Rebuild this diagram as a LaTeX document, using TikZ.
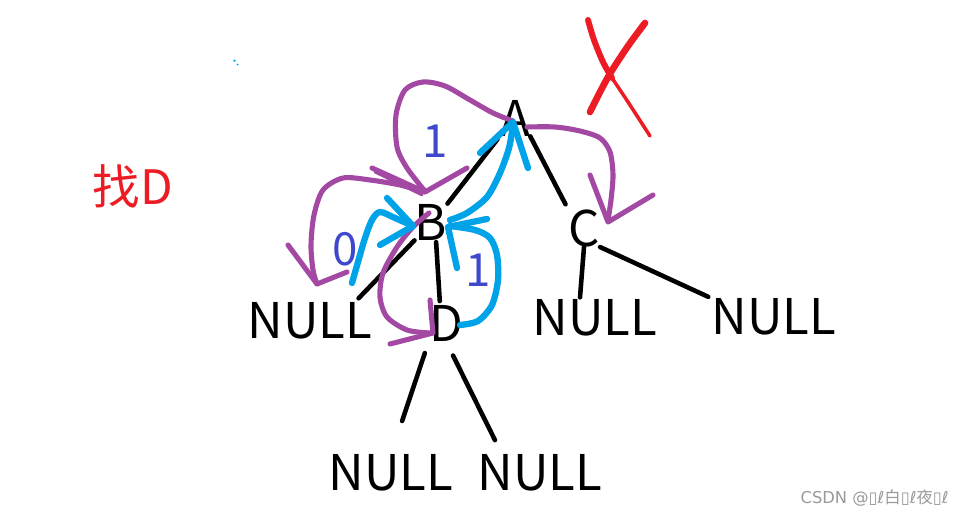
\documentclass[tikz,border=0pt]{standalone}
\usepackage{fontspec}
\usepackage{xcolor}
\usepackage{tikz}
\usetikzlibrary{arrows.meta, positioning, calc}
\newfontfamily\cjk{Noto Sans CJK SC}
\newfontfamily\dejavu{DejaVu Sans}
\definecolor{penpurple}{HTML}{A349A4}
\definecolor{penblue}{HTML}{00A2E8}
\definecolor{penred}{HTML}{ED1C24}
\definecolor{penindigo}{HTML}{3F48CC}
\tikzset{
  key/.style={inner sep=0pt, font=\cjk\fontsize{28}{30}\selectfont},
  nil/.style={inner sep=0pt, font=\cjk\fontsize{28}{30}\selectfont},
  idx/.style={inner sep=0pt, text=penindigo, font=\cjk\fontsize{26}{28}\selectfont},
  edge/.style={line width=2.6pt, line cap=round},
  goline/.style={penpurple, line width=2.9pt, line cap=round, line join=round},
  backline/.style={penblue, line width=3.6pt, line cap=round, line join=round}
}

\begin{document}
\begin{tikzpicture}[x=0.02cm, y=-0.02cm]
        \useasboundingbox (0,0) rectangle (964,519);

        % Goal
        \node[inner sep=0pt, text=penred, font=\cjk\fontsize{27}{29}\selectfont] (goal) at (133,186) {找D};

        % Tree nodes
        \node[key] (a) at (515,118) {A};
        \node[key] (b) at (431,222) {B};
        \node[key] (c) at (584,228) {C};
        \node[key] (d) at (446,323) {D};
        \node[nil] (bl) at (310,321) {NULL};
        \node[nil] (cl) at (595,318) {NULL};
        \node[nil] (cr) at (774,317) {NULL};
        \node[nil] (dl) at (391,473) {NULL};
        \node[nil] (dr) at (540,473) {NULL};

        % Edges
        \draw[edge, shorten <=2pt] (a.south west) -- (b.north east);
        \draw[edge, shorten >=3pt] (a.south east) -- (c.north west);
        \draw[edge] (b.south west) -- ($(bl.north east)+(-14,-4)$);
        \draw[edge, shorten <=1pt, shorten >=2pt] ($(b.south)+(5,0)$) -- ($(d.north)+(-6,0)$);
        \draw[edge] (c.south) -- ($(cl.north)+(-15,-2)$);
        \draw[edge, shorten >=2pt] (c.south east) -- (cr.north west);
        \draw[edge, shorten <=7pt, shorten >=20pt] (d.south west) -- (dl.north);
        \draw[edge, shorten <=9pt, shorten >=9pt] (d.south) -- ($(dr.north)+(-38,0)$);

        % Path labels
        \node[idx] (one) at (435,141) {1};
        \node[idx] (zero) at (345,249) {0};
        \node[idx] (onedown) at (478,270) {1};

        % Going down (purple)
        \draw[goline] plot[smooth] coordinates {(513,121) (493,113) (470,100) (445,86) (423,82) (405,90) (396,115) (397,147) (407,168) (424,190)};
        \draw[goline] (372,168) -- (425,192) -- (467,168);
        \draw[goline, line width=1.6pt] (375,172) -- (422,195);
        \draw[goline] plot[smooth] coordinates {(424,192) (400,185) (370,180) (343,178) (323,190) (314,215) (311,245) (313,270) (317,284)};
        \draw[goline] (288,245) -- (317,284) -- (347,272);
        \draw[goline] plot[smooth] coordinates {(429,213) (413,227) (397,247) (383,273) (380,297) (387,317) (407,330) (430,333)};
        \draw[goline] (390,344) -- (433,333) -- (430,300);
        \draw[goline] plot[smooth] coordinates {(527,127) (555,127) (580,131) (600,138) (610,152) (613,175) (611,200) (608,220)};
        \draw[goline] (590,175) -- (608,222) -- (653,195);

        % Going back (blue)
        \draw[backline] plot[smooth] coordinates {(352,283) (358,262) (365,238) (372,220) (380,212) (395,218) (413,226)};
        \draw[backline] (387,198) -- (413,226) -- (380,245);
        \draw[backline] plot[smooth] coordinates {(460,325) (478,321) (492,305) (498,280) (497,255) (490,238) (475,230) (450,226)};
        \draw[backline] (487,219) -- (448,227) -- (457,268);
        \draw[backline] plot[smooth] coordinates {(450,220) (467,213) (487,197) (500,173) (509,148) (513,125)};
        \draw[backline] (480,153) -- (513,122) -- (528,168);
        \draw[penblue, line width=1pt, dotted] (234,60) -- (238,65);

        % Cross
        \draw[penred, line width=3.4pt, line cap=round] plot[smooth] coordinates {(588,20) (594,40) (603,62) (612,78)};
        \draw[penred, line width=2pt, line cap=round] plot[smooth] coordinates {(612,78) (628,102) (650,136)};
        \draw[penred, line width=3.8pt, line cap=round] plot[smooth] coordinates {(645,23) (628,46) (611,72) (600,92) (590,112)};

        % Watermark
        \node[anchor=east, inner sep=0pt, text=black!40, font=\dejavu\fontsize{9.3}{11}\selectfont] (mark) at (949,498) {CSDN @▯ℓ{\cjk 白}▯ℓ{\cjk 夜}▯ℓ};
    \end{tikzpicture}
\end{document}
